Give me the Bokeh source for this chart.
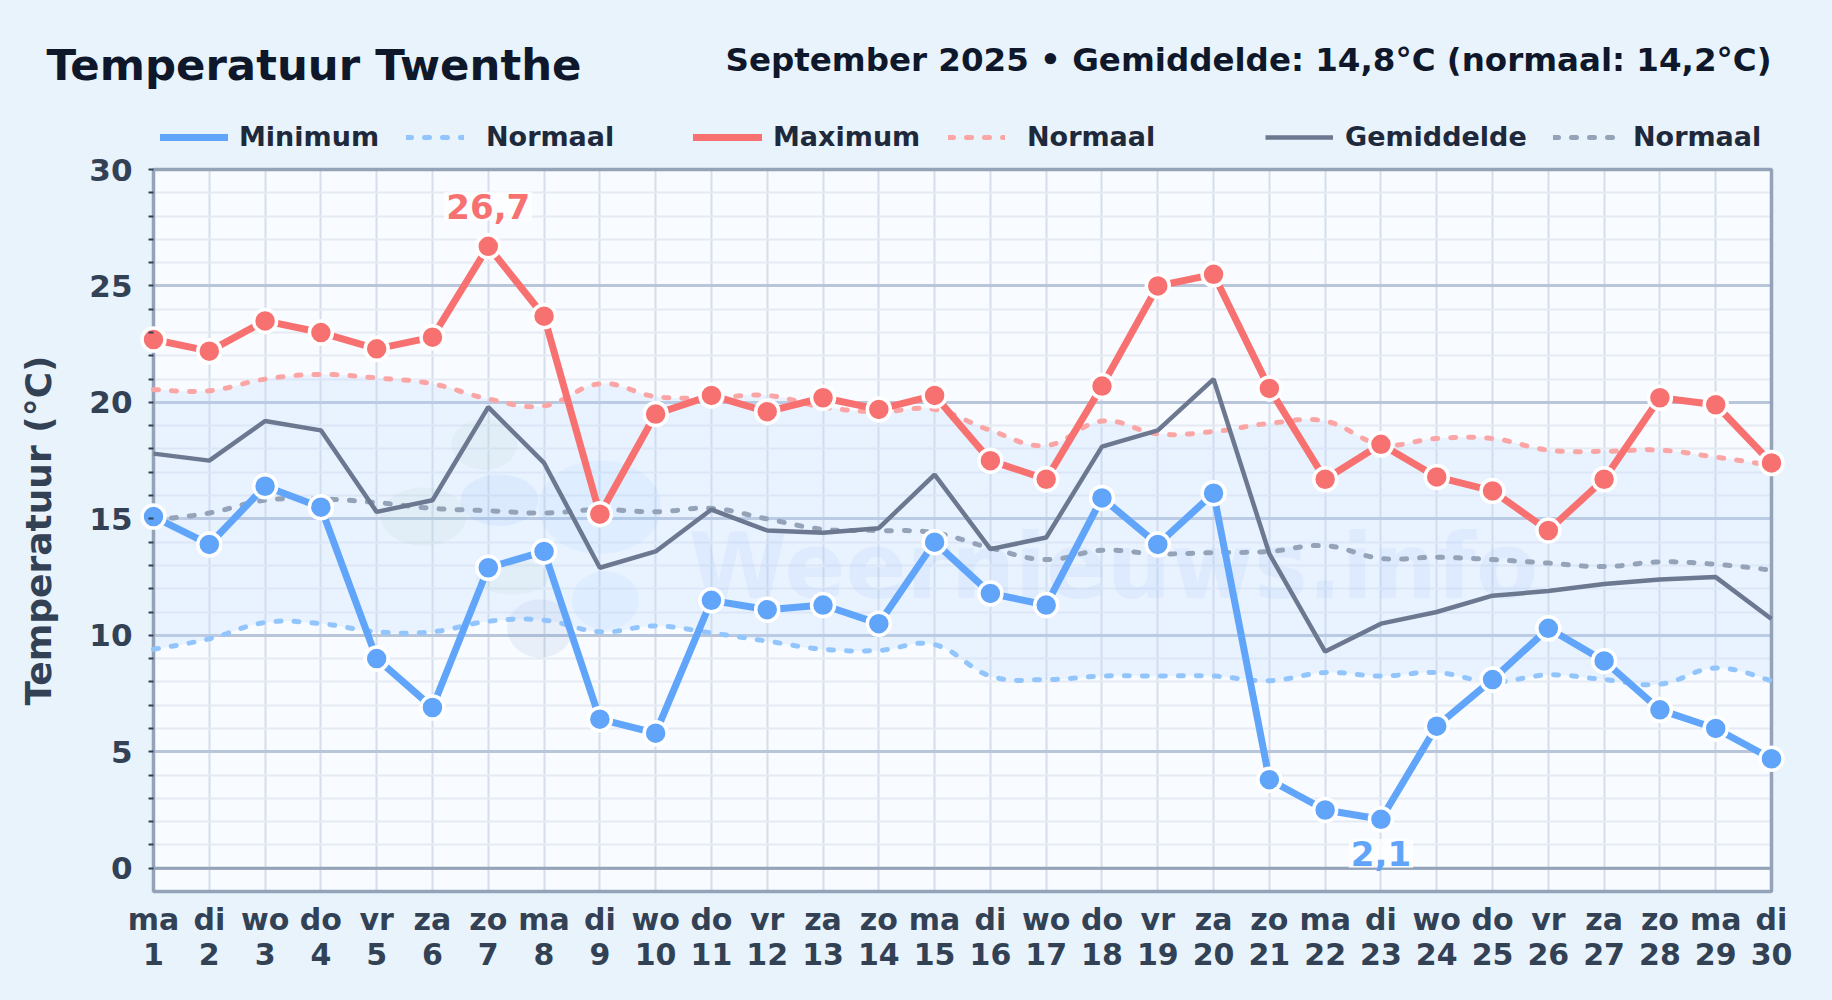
import numpy as np
from bokeh.embed import file_html
from bokeh.resources import INLINE
from bokeh.plotting import figure
from bokeh.core.properties import value
from bokeh.models import (Range1d, FixedTicker, Label, Legend, LegendItem,
                          GlobalInlineStyleSheet)

weekday = ["ma","di","wo","do","vr","za","zo"]
days = list(range(1, 31))
day_labels = {d: f"{weekday[(d-1) % 7]}\n{d}" for d in days}

t_max = [22.7,22.2,23.5,23.0,22.3,22.8,26.7,23.7,15.2,19.5,20.3,19.6,20.2,19.7,20.3,17.5,16.7,20.7,25.0,25.5,20.6,16.7,18.2,16.8,16.2,14.5,16.7,20.2,19.9,17.4]
t_min = [15.1,13.9,16.4,15.5,9.0,6.9,12.9,13.6,6.4,5.8,11.5,11.1,11.3,10.5,14.0,11.8,11.3,15.9,13.9,16.1,3.8,2.5,2.1,6.1,8.1,10.3,8.9,6.8,6.0,4.7]
t_avg = [17.8,17.5,19.2,18.8,15.3,15.8,19.8,17.4,12.9,13.6,15.4,14.5,14.4,14.6,16.9,13.7,14.2,18.1,18.8,21.0,13.5,9.3,10.5,11.0,11.7,11.9,12.2,12.4,12.5,10.7]
n_max = [20.55,20.5,21.0,21.2,21.05,20.8,20.15,19.85,20.8,20.25,20.2,20.3,19.8,19.6,19.7,18.8,18.15,19.2,18.65,18.75,19.1,19.2,18.2,18.45,18.45,17.95,17.9,17.95,17.65,17.3]
n_min = [9.4,9.85,10.55,10.5,10.15,10.15,10.6,10.65,10.15,10.4,10.1,9.75,9.4,9.35,9.6,8.25,8.1,8.25,8.25,8.25,8.05,8.4,8.25,8.4,8.0,8.3,8.1,7.9,8.6,8.05]
n_avg = [14.95,15.25,15.8,15.85,15.7,15.45,15.35,15.25,15.4,15.3,15.45,15.0,14.55,14.5,14.4,13.75,13.25,13.65,13.5,13.55,13.6,13.85,13.3,13.35,13.25,13.1,12.95,13.15,13.05,12.8]

y_major = [0,5,10,15,20,25,30]
y_minor = list(range(0, 31))

FONT = "DejaVu Sans"
BG = "#e8f3fc"
C_MIN, C_MAX, C_AVG = "#60a5fa", "#f87171", "#6b7890"
C_NMIN, C_NMAX, C_NAVG = "#93c5fd", "#fca5a5", "#94a3b8"

def smooth(xs, ys, n=14, t=0.4):
    xs, ys = np.asarray(xs, float), np.asarray(ys, float)
    P = np.column_stack([xs, ys])
    out = []
    for i in range(len(P) - 1):
        p0 = P[max(i - 1, 0)]; p1 = P[i]; p2 = P[i + 1]; p3 = P[min(i + 2, len(P) - 1)]
        c1 = p1 + (p2 - p0) * t / 2
        c2 = p2 - (p3 - p1) * t / 2
        for u in np.linspace(0, 1, n, endpoint=False):
            out.append((1-u)**3*p1 + 3*(1-u)**2*u*c1 + 3*(1-u)*u**2*c2 + u**3*p2)
    out.append(P[-1])
    out = np.array(out)
    return out[:, 0], out[:, 1]

# The frame fills the whole canvas so that nothing outside the plot box is clipped;
# the plot box itself is the day 1..30, -1..30 degree region of the ranges.
W, H = 1832, 1000
px_day = (1771 - 153) / 29
px_deg = (891 - 169) / 31
p = figure(width=W, height=H, output_backend="svg", toolbar_location=None,
           x_range=Range1d(days[0] - 153 / px_day, days[-1] + (W - 1771) / px_day),
           y_range=Range1d(-1 - (H - 891) / px_deg, 30 + 169 / px_deg),
           frame_width=W, frame_height=H,
           min_border_left=0, min_border_right=0, min_border_top=0, min_border_bottom=0)
p.stylesheets = [GlobalInlineStyleSheet(css=f"html,body{{background:{BG};margin:0;padding:0;}}")]
p.background_fill_color = BG
p.border_fill_color = BG
p.outline_line_color = None

# plot background
p.quad(left=[days[0]], right=[days[-1]], bottom=[-1], top=[30], fill_color="#f8fbff",
       line_color=None, level="image")

# grids
p.xgrid.ticker = FixedTicker(ticks=days)
p.xgrid.cross_bounds = (-1, 30)
p.xgrid.grid_line_color = "#d5deea"
p.xgrid.grid_line_width = 2
p.ygrid.ticker = FixedTicker(ticks=y_major, minor_ticks=y_minor)
p.ygrid.cross_bounds = (1, 30)
p.ygrid.grid_line_color = "#b9c6da"
p.ygrid.grid_line_width = 3
p.ygrid.minor_grid_line_color = "#e5ebf3"
p.ygrid.minor_grid_line_width = 2

# axes
ax = p.xaxis[0]
ax.ticker = FixedTicker(ticks=days)
ax.major_label_overrides = day_labels
ax.fixed_location = -1
ax.axis_line_color = None
ax.major_tick_line_color = None
ax.minor_tick_line_color = None
ax.major_tick_out = 0
ax.major_label_text_font = FONT
ax.major_label_text_font_style = "bold"
ax.major_label_text_font_size = "30px"
ax.major_label_text_line_height = 1.0
ax.major_label_text_color = "#334155"
ax.major_label_standoff = 10

ay = p.yaxis[0]
ay.ticker = FixedTicker(ticks=y_major, minor_ticks=y_minor)
ay.fixed_location = days[0]
ay.bounds = (-1, 30)
ay.axis_line_color = None
ay.major_tick_line_color = None
ay.major_tick_out = 0
ay.minor_tick_line_color = "#334155"
ay.minor_tick_line_width = 2
ay.minor_tick_out = 5
ay.minor_tick_in = 0
ay.major_label_text_font = FONT
ay.major_label_text_font_style = "bold"
ay.major_label_text_font_size = "31px"
ay.major_label_text_color = "#334155"
ay.major_label_standoff = 16
ay.axis_label = "Temperatuur (°C)"
ay.axis_label_text_font = FONT
ay.axis_label_text_font_style = "bold"
ay.axis_label_text_font_size = "36px"
ay.axis_label_text_color = "#334155"
ay.axis_label_standoff = 27

# watermark
blob_x = [6.93, 5.84, 7.43, 7.2, 9.0, 7.93, 9.1]
blob_y = [18.2, 15.1, 12.5, 15.8, 15.5, 10.3, 11.5]
blob_w = [1.18, 1.54, 1.3, 1.4, 2.2, 1.18, 1.2]
blob_h = [2.2, 2.5, 1.5, 2.2, 4.0, 2.5, 2.5]
blob_c = ["#86c98a", "#86c98a", "#86c98a", "#3b82f6", "#60b0fa", "#4b7fb8", "#60b0fa"]
p.ellipse(x=blob_x, y=blob_y, width=blob_w, height=blob_h, fill_color=blob_c, fill_alpha=0.09, line_color=None)
p.text(x=[18.2], y=[12.95], text=["Weernieuws.info"], text_font=value(FONT), text_font_style="bold", text_font_size="90px",
       text_color="#3b82f6", text_alpha=0.07, text_align="center", text_baseline="alphabetic")

# normal band
sx, s_nmax = smooth(days, n_max)
_, s_nmin = smooth(days, n_min)
_, s_navg = smooth(days, n_avg)
p.varea(x=sx, y1=s_nmin, y2=s_nmax, fill_color="#bfdbfe", fill_alpha=0.27)

# frame and zero line
p.segment(x0=[days[0]], y0=[0], x1=[days[-1]], y1=[0], line_color="#94a3b8", line_width=3)
p.quad(left=[days[0]], right=[days[-1]], bottom=[-1], top=[30], fill_color=None, line_color="#94a3b8", line_width=3.5)

DASH = "5 13"
r_nmin = p.line(sx, s_nmin, line_color=C_NMIN, line_width=5, line_dash=DASH, line_cap="round")
r_nmax = p.line(sx, s_nmax, line_color=C_NMAX, line_width=5, line_dash=DASH, line_cap="round")
r_navg = p.line(sx, s_navg, line_color=C_NAVG, line_width=5, line_dash=DASH, line_cap="round")
r_avg = p.line(days, t_avg, line_color=C_AVG, line_width=4.5)
r_max = p.line(days, t_max, line_color=C_MAX, line_width=7, line_cap="round")
p.scatter(days, t_max, size=23, fill_color=C_MAX, line_color="white", line_width=3.5)
r_min = p.line(days, t_min, line_color=C_MIN, line_width=7, line_cap="round")
p.scatter(days, t_min, size=23, fill_color=C_MIN, line_color="white", line_width=3.5)

# legends: one per entry so that each sits where the original has it
def add_legend(label, rend, x0, x1, xt, yc=137):
    lg = Legend(items=[LegendItem(label=label, renderers=[rend])],
                location=(x0, H - yc - 15), orientation="horizontal",
                glyph_width=x1 - x0, glyph_height=30, label_standoff=xt - x1, label_height=30,
                padding=0, margin=0, spacing=0, background_fill_alpha=0, border_line_color=None,
                label_text_font=FONT, label_text_font_style="bold", label_text_font_size="27px",
                label_text_color="#1e293b", label_text_baseline="middle")
    p.add_layout(lg, "center")

add_legend("Minimum", r_min, 160, 228, 239)
add_legend("Normaal", r_nmin, 406, 464, 486)
add_legend("Maximum", r_max, 693, 762, 773)
add_legend("Normaal", r_nmax, 948, 1005, 1027)
add_legend("Gemiddelde", r_avg, 1265, 1333, 1345)
add_legend("Normaal", r_navg, 1553, 1619, 1633)

# titles
p.add_layout(Label(x=46, y=H - 64, x_units="screen", y_units="screen", text="Temperatuur Twenthe",
                   text_font=FONT, text_font_style="bold", text_font_size="43.4px", text_color="#0f172a",
                   text_align="left", text_baseline="middle"))
p.add_layout(Label(x=1771, y=H - 59, x_units="screen", y_units="screen",
                   text="September 2025 • Gemiddelde: 14,8°C (normaal: 14,2°C)",
                   text_font=FONT, text_font_style="bold", text_font_size="32.5px", text_color="#0f172a",
                   text_align="right", text_baseline="middle"))

# extreme labels
hi = int(np.argmax(t_max)); lo = int(np.argmin(t_min))
for xv, yv, off, col in [(days[hi], t_max[hi], 40, C_MAX), (days[lo], t_min[lo], -34, C_MIN)]:
    p.add_layout(Label(x=xv, y=yv, y_offset=off, text=f"{yv:.1f}".replace(".", ","),
                       text_font=FONT, text_font_style="bold", text_font_size="34px", text_color=col,
                       background_fill_color="white", background_fill_alpha=0.75, padding=2,
                       text_align="center", text_baseline="middle"))

open("out.html", "w").write(file_html(p, INLINE))
